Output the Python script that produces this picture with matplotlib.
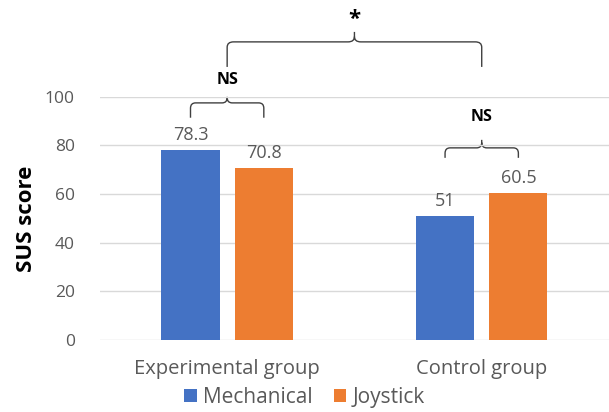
import matplotlib.pyplot as plt
from matplotlib.path import Path
from matplotlib.patches import PathPatch
import numpy as np

plt.rcParams['font.family'] = ['Open Sans', 'DejaVu Sans']

groups = ["Experimental group", "Control group"]
mechanical = [78.3, 51]
joystick = [70.8, 60.5]
value_labels_mech = ["78.3", "51"]
value_labels_joy = ["70.8", "60.5"]
series_names = ["Mechanical", "Joystick"]

blue = "#4472C4"
orange = "#ED7D31"
grey = "#595959"


def curly(ax, x0, x1, ybot, ymid, ytop, rx=0.02, ry=2.2):
    xm = (x0 + x1) / 2
    verts = [(x0, ybot), (x0, ymid - ry), (x0, ymid), (x0 + rx, ymid),
             (xm - rx, ymid), (xm, ymid), (xm, ymid + ry), (xm, ytop),
             (xm, ymid + ry), (xm, ymid), (xm + rx, ymid),
             (x1 - rx, ymid), (x1, ymid), (x1, ymid - ry), (x1, ybot)]
    codes = [Path.MOVETO, Path.LINETO, Path.CURVE3, Path.CURVE3,
             Path.LINETO, Path.CURVE3, Path.CURVE3, Path.LINETO,
             Path.MOVETO, Path.CURVE3, Path.CURVE3,
             Path.LINETO, Path.CURVE3, Path.CURVE3, Path.LINETO]
    ax.add_patch(PathPatch(Path(verts, codes), fill=False, edgecolor="#404040",
                           lw=1.0, clip_on=False))


fig = plt.figure(figsize=(6.09, 4.12), dpi=100)
ax = fig.add_axes([0.164, 0.175, 0.836, 0.59])

x = np.arange(len(groups))
w = 0.228
off = 0.144
b1 = ax.bar(x - off, mechanical, w, color=blue, label=series_names[0], zorder=3)
b2 = ax.bar(x + off, joystick, w, color=orange, label=series_names[1], zorder=3)

for bars, labs in ((b1, value_labels_mech), (b2, value_labels_joy)):
    for r, lab in zip(bars, labs):
        ax.annotate(lab, (r.get_x() + r.get_width() / 2, r.get_height()),
                    xytext=(0, 4), textcoords="offset points",
                    ha="center", va="bottom", fontsize=13, color=grey)

ax.set_xlim(-0.5, 1.5)
ax.set_ylim(0, 100)
ax.set_yticks(range(0, 101, 20))
ax.set_xticks(x)
ax.set_xticklabels(groups)
ax.tick_params(axis="y", length=0, labelsize=12.5, colors=grey, pad=18)
ax.tick_params(axis="x", length=0, labelsize=14.5, colors=grey, pad=14)
ax.grid(axis="y", color="#D9D9D9", lw=1, zorder=0)
for s in ax.spines.values():
    s.set_visible(False)
ax.set_ylabel("SUS score", fontsize=16, fontweight="bold", color="black", labelpad=6)

# significance brackets
curly(ax, x[0] - off, x[0] + off, 91.4, 97.5, 100)
ax.text(x[0], 107, "NS", ha="center", va="center", fontsize=11.5,
        fontweight="bold", color="black")
curly(ax, x[1] - off, x[1] + off, 74.9, 79, 82.3)
ax.text(x[1], 91.8, "NS", ha="center", va="center", fontsize=11.5,
        fontweight="bold", color="black")
curly(ax, x[0], x[1], 112.3, 122.6, 126.7, rx=0.025)
ax.text((x[0] + x[1]) / 2, 132, "*", ha="center", va="center", fontsize=16,
        fontweight="bold", color="black")

fig.legend(loc="lower center", bbox_to_anchor=(0.5, -0.035), ncol=2, frameon=False,
           fontsize=15, handlelength=0.6, handleheight=0.6, handletextpad=0.3,
           columnspacing=1.0, labelcolor=grey)

fig.savefig("out.png", dpi=100)
